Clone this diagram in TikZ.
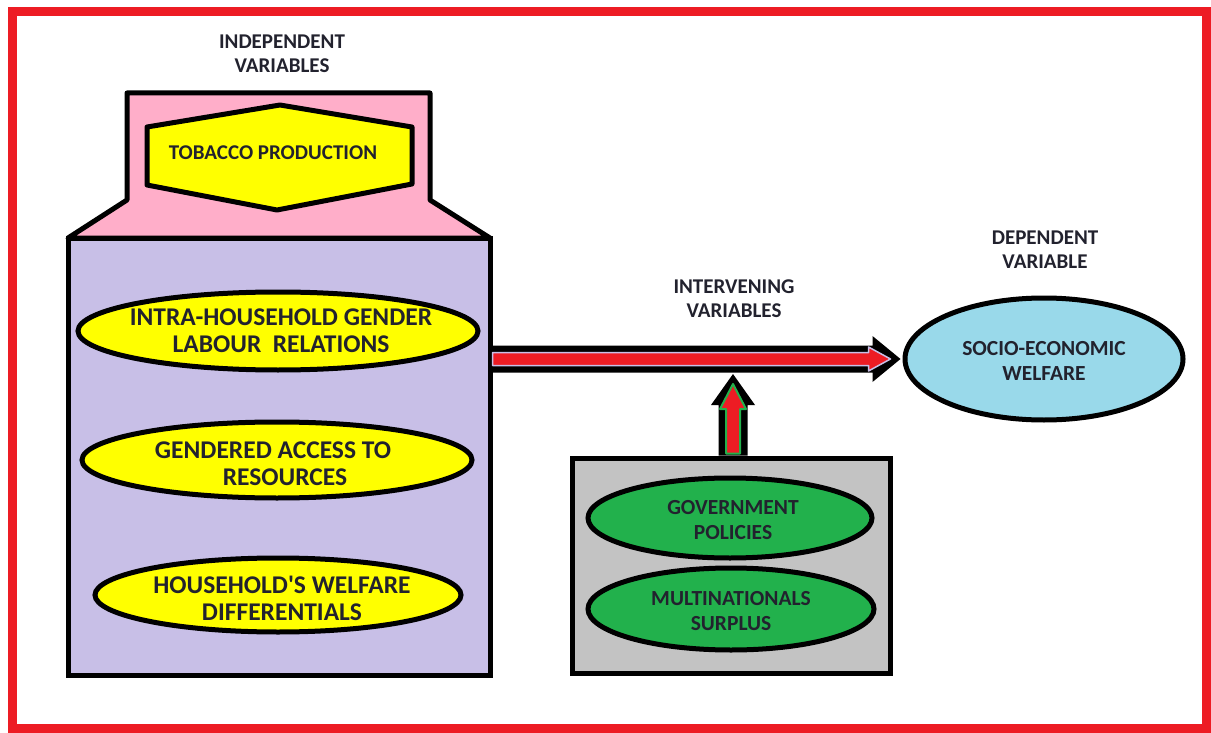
\documentclass[tikz,border=0pt]{standalone}
\usepackage{fontspec}
\setmainfont{Carlito}
\usetikzlibrary{shapes.geometric,calc}
\definecolor{frame}{HTML}{ED1C24}
\definecolor{pinkc}{HTML}{FFAEC9}
\definecolor{lav}{HTML}{C8BFE7}
\definecolor{yel}{HTML}{FFFF00}
\definecolor{grn}{HTML}{22B14C}
\definecolor{gry}{HTML}{C3C3C3}
\definecolor{sky}{HTML}{99D9EA}
\definecolor{ink}{HTML}{22222E}
\definecolor{arrred}{HTML}{ED1C24}
\tikzset{
  heading/.style={text=ink, font=\bfseries\fontsize{21}{24}\selectfont, align=center, inner sep=0pt},
  ellbase/.style={ellipse, draw=black, line width=5pt, inner sep=0pt},
  ytext/.style={text=ink, inner sep=0pt, font=\bfseries\fontsize{25.5}{27}\selectfont, align=center},
  gtext/.style={text=ink, inner sep=0pt, font=\bfseries\fontsize{21.5}{25}\selectfont, align=center},
  boxstyle/.style={draw=black, line width=5pt, inner sep=0pt},
}
\begin{document}
\begin{tikzpicture}[x=1pt,y=-1pt]
\useasboundingbox (0,0) rectangle (1211,733);
\fill[white] (0,0) rectangle (1211,733);
\draw[frame,line width=9pt] (12.5,12) rectangle (1206.5,728.5);

% pink top shape
\draw[fill=pinkc, line width=5pt, line join=round] (127,93) -- (430,93) -- (430,200) -- (490,238) -- (68,238) -- (127,200) -- cycle;
% independent variables box
\node[boxstyle, fill=lav, minimum width=422pt, minimum height=437pt] (ivbox) at (279,456.5) {};
% hexagon
\draw[fill=yel, line width=5pt, line join=round] (147,127) -- (280,105) -- (412,127) -- (412,184) -- (277,210) -- (147,185) -- cycle;
\node[heading] (tob) at (273,153) {TOBACCO PRODUCTION};

\node[heading] (hind) at (282,54) {INDEPENDENT\\VARIABLES};
\node[heading] (hint) at (734,299) {INTERVENING\\VARIABLES};
\node[heading] (hdep) at (1045,250) {DEPENDENT\\VARIABLE};

% yellow ellipses
\node[ellbase, fill=yel, minimum width=400pt, minimum height=78pt] (e1) at (278,331) {};
\node[ytext] (t1) at (281,331) {INTRA-HOUSEHOLD GENDER\\LABOUR~~RELATIONS};
\node[ellbase, fill=yel, minimum width=390pt, minimum height=76pt] (e2) at (277,460) {};
\node[ytext] (t2) at (273,464) {GENDERED ACCESS TO\\\hspace*{24pt}RESOURCES};
\node[ellbase, fill=yel, minimum width=366pt, minimum height=74pt] (e3) at (278,595) {};
\node[ytext] (t3) at (282,598) {HOUSEHOLD\textquotesingle S WELFARE\\DIFFERENTIALS};

% dependent variable
\node[ellbase, fill=sky, minimum width=278pt, minimum height=122pt] (dv) at (1044,359) {};
\node[gtext] (tdv) at (1044,361) {SOCIO-ECONOMIC\\WELFARE};

% intervening box
\node[boxstyle, fill=gry, minimum width=318pt, minimum height=215pt] (gbox) at (731,565.5) {};
\node[ellbase, fill=grn, minimum width=284pt, minimum height=80pt] (g1) at (730,518) {};
\node[gtext] (tg1) at (733,520) {GOVERNMENT\\POLICIES};
\node[ellbase, fill=grn, minimum width=286pt, minimum height=82pt] (g2) at (731,609) {};
\node[gtext] (tg2) at (731,611) {MULTINATIONALS\\SURPLUS};

% horizontal arrow
\coordinate (hs) at (ivbox.east |- dv.west);
\coordinate (ht) at ($(dv.west)+(-2,0)$);
\fill[black] ($(hs)+(0,-13.5)$) -- ($(ht)+(-28,-13.5)$) -- ($(ht)+(-28,-23)$) -- (ht) -- ($(ht)+(-28,23)$) -- ($(ht)+(-28,13.5)$) -- ($(hs)+(0,13.5)$) -- cycle;
\filldraw[fill=arrred, draw=lav, line width=1.5pt, line join=round] ($(hs)+(0,-6.5)$) -- ($(ht)+(-32,-6.5)$) -- ($(ht)+(-32,-12)$) -- ($(ht)+(-10,0)$) -- ($(ht)+(-32,12)$) -- ($(ht)+(-32,6.5)$) -- ($(hs)+(0,6.5)$) -- cycle;

% vertical arrow
\coordinate (vb) at ($(gbox.north)+(2,0)$);
\coordinate (vt) at ($(vb |- hs)+(0,15)$);
\fill[black] ($(vb)+(-14.5,0)$) -- ($(vt)+(-14.5,31)$) -- ($(vt)+(-22,31)$) -- (vt) -- ($(vt)+(22,31)$) -- ($(vt)+(14.5,31)$) -- ($(vb)+(14.5,0)$) -- cycle;
\filldraw[fill=arrred, draw=grn, line width=2pt, line join=round] ($(vb)+(-7,-2)$) -- ($(vt)+(-7,35)$) -- ($(vt)+(-13,35)$) -- ($(vt)+(0,10)$) -- ($(vt)+(13,35)$) -- ($(vt)+(7,35)$) -- ($(vb)+(7,-2)$) -- cycle;
\end{tikzpicture}
\end{document}
